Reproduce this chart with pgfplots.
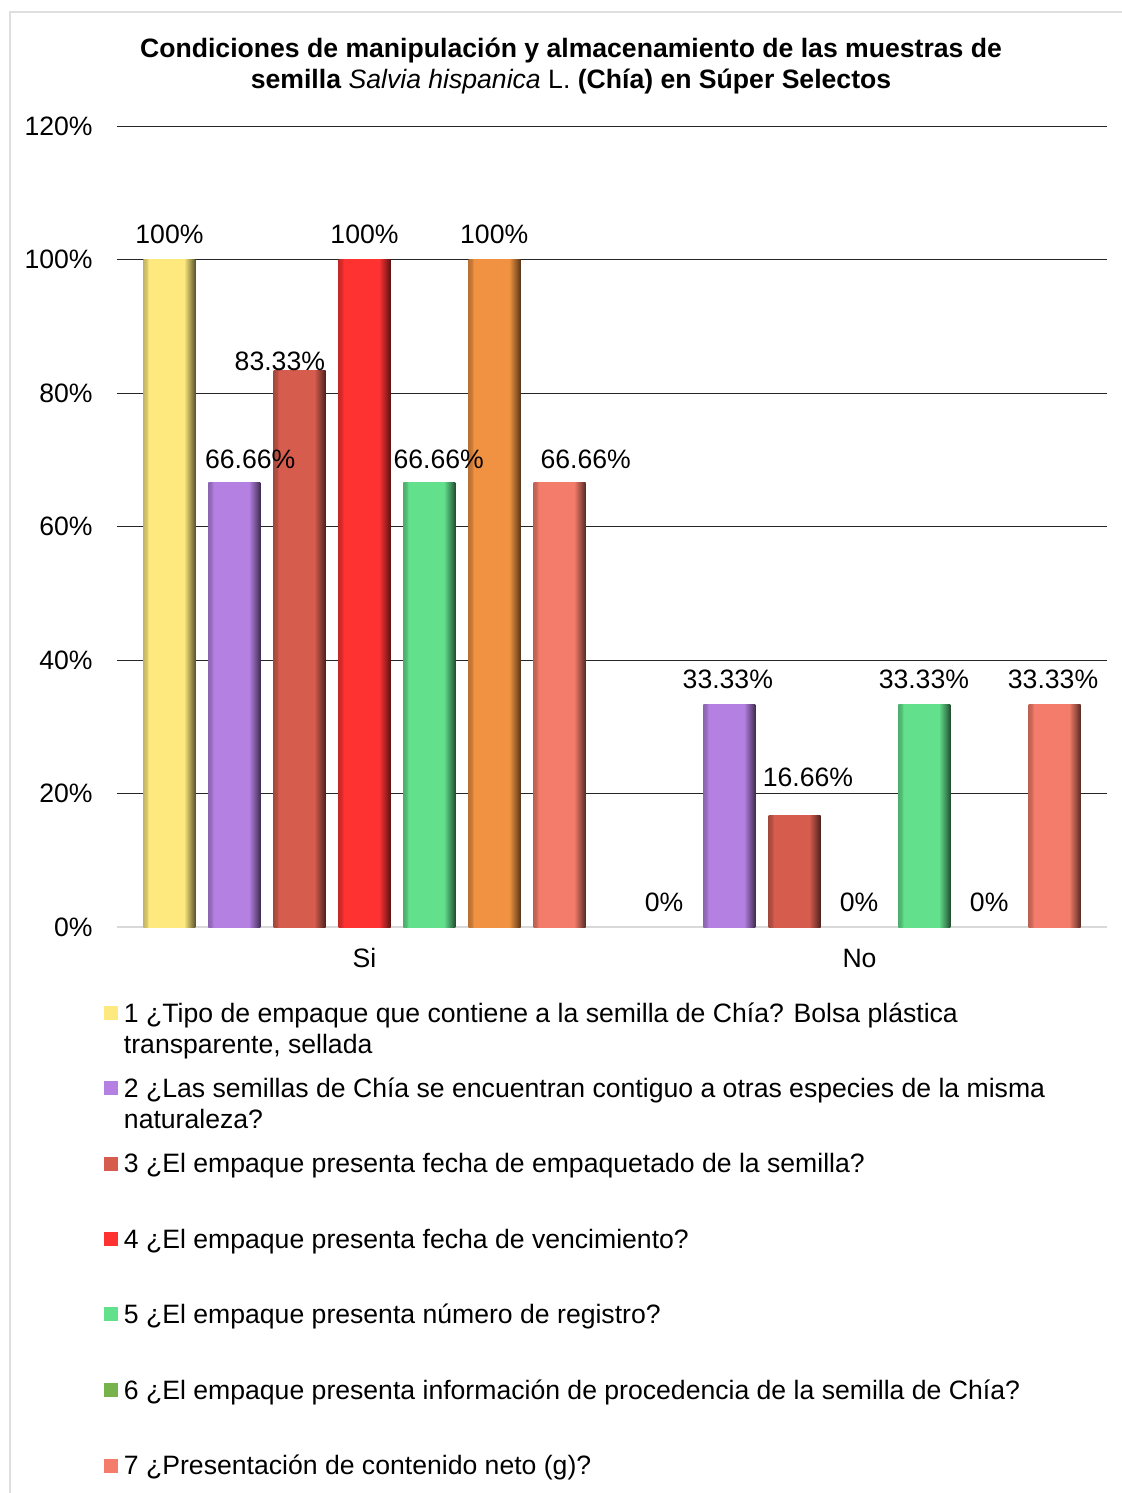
\documentclass[border=0pt]{standalone}
\usepackage{fontspec}
\setmainfont{Liberation Sans}
\usepackage{pgfplots}
\pgfplotsset{compat=1.18}
\definecolor{c1}{RGB}{253,233,125}
\definecolor{c2}{RGB}{180,128,226}
\definecolor{c3}{RGB}{214,92,78}
\definecolor{c4}{RGB}{255,50,50}
\definecolor{c5}{RGB}{98,224,140}
\definecolor{c6}{RGB}{240,146,66}
\definecolor{c7}{RGB}{244,124,106}
\definecolor{c6leg}{RGB}{119,178,75}
\newcommand{\barshade}[1]{\pgfdeclarehorizontalshading{bs#1}{100bp}{color(0bp)=(#1!78!black); color(25bp)=(#1!78!black); color(28bp)=(#1!85!black); color(30bp)=(#1); color(64bp)=(#1); color(71bp)=(#1!60!black); color(75bp)=(#1!35!black); color(100bp)=(#1!35!black)}}
\barshade{c1}\barshade{c2}\barshade{c3}\barshade{c4}\barshade{c5}\barshade{c6}\barshade{c7}
\pgfplotsset{
  mybar/.style={ybar, bar width=26pt, bar shift=0pt, draw=none, forget plot,
    shade, shading=bs#1},
}
\newcommand{\entry}[2]{\makebox[10pt][l]{\raisebox{1.2pt}{\color{#1}\rule{7pt}{7pt}}}\parbox[t]{510pt}{\raggedright #2}}
\newcommand{\fs}{\fontsize{13.3}{15.5}\selectfont}
\begin{document}
\begin{tikzpicture}
\path[use as bounding box] (0pt,0pt) rectangle (561pt,-746.5pt);
\draw[gray!25, line width=0.6pt] (5pt,-746.5pt) -- (5pt,-6pt) -- (561pt,-6pt);
\begin{axis}[
  at={(58.5pt,-463.5pt)}, anchor=south west,
  scale only axis, width=495pt, height=400.5pt,
  xmin=-0.5, xmax=1.5, ymin=0, ymax=120,
  clip=false,
  font=\fs,
  axis x line*=bottom, axis y line*=left,
  x axis line style={draw=gray!30, line width=0.6pt},
  y axis line style={draw=none},
  tick style={draw=none},
  xtick={0,1}, xticklabels={Si,No},
  xticklabel style={anchor=center, yshift=-15.5pt, inner sep=0pt},
  ytick={20,40,60,80,100,120},
  yticklabels={20\%,40\%,60\%,80\%,100\%,120\%},
  extra y ticks={0}, extra y tick labels={0\%},
  extra y tick style={grid=none},
  yticklabel style={anchor=east, inner sep=0pt, xshift=-12pt},
  ymajorgrids, grid style={black!85, line width=0.5pt},
  title={Condiciones de manipulación y almacenamiento de las muestras de\\semilla \textmd{\textit{Salvia hispanica} L.} (Chía) en Súper Selectos},
  title style={at={(rel axis cs:0.4586,1)}, anchor=center, yshift=24pt, align=center, font=\fs\bfseries},
  legend cell align=left,
  legend style={at={(rel axis cs:-0.0172,-0.0892)}, anchor=north west, draw=none, fill=none,
    inner sep=0pt, outer sep=0pt, row sep=22.5pt, column sep=0pt,
    cells={anchor=west, inner sep=0pt}, font=\fs},
]
% series 1 (yellow): Si 100, No 0
\addplot[mybar=c1] coordinates {(-0.394,100)};
% series 2 (purple): Si 66.66, No 33.33
\addplot[mybar=c2] coordinates {(-0.263,66.66)};
\addplot[mybar=c2] coordinates {(0.737,33.33)};
% series 3 (brown-red): Si 83.33, No 16.66
\addplot[mybar=c3] coordinates {(-0.131,83.33)};
\addplot[mybar=c3] coordinates {(0.869,16.66)};
% series 4 (red): Si 100, No 0
\addplot[mybar=c4] coordinates {(0,100)};
% series 5 (green): Si 66.66, No 33.33
\addplot[mybar=c5] coordinates {(0.131,66.66)};
\addplot[mybar=c5] coordinates {(1.131,33.33)};
% series 6 (orange): Si 100, No 0
\addplot[mybar=c6] coordinates {(0.263,100)};
% series 7 (salmon): Si 66.66, No 33.33
\addplot[mybar=c7] coordinates {(0.394,66.66)};
\addplot[mybar=c7] coordinates {(1.394,33.33)};
% data labels
\addplot[forget plot, draw=none, mark=none, nodes near coords, point meta=explicit symbolic,
  nodes near coords style={anchor=center, inner sep=0pt, font=\fs}]
  coordinates {
  (-0.394,103.82) [100\%]
  (-0.231,70.11) [66.66\%]
  (-0.171,84.79) [83.33\%]
  (0,103.82) [100\%]
  (0.150,70.11) [66.66\%]
  (0.262,103.82) [100\%]
  (0.447,70.11) [66.66\%]
  (0.605,3.745) [0\%]
  (0.734,37.15) [33.33\%]
  (0.896,22.47) [16.66\%]
  (0.999,3.745) [0\%]
  (1.130,37.15) [33.33\%]
  (1.262,3.745) [0\%]
  (1.391,37.15) [33.33\%]
  };
\addlegendimage{legend image code/.code={}}
\addlegendentry{\entry{c1}{1 ¿Tipo de empaque que contiene a la semilla de Chía? Bolsa plástica\newline transparente, sellada}}
\addlegendimage{legend image code/.code={}}
\addlegendentry{\entry{c2}{2 ¿Las semillas de Chía se encuentran contiguo a otras especies de la misma\newline naturaleza?}}
\addlegendimage{legend image code/.code={}}
\addlegendentry{\entry{c3}{3 ¿El empaque presenta fecha de empaquetado de la semilla?}}
\addlegendimage{legend image code/.code={}}
\addlegendentry{\entry{c4}{4 ¿El empaque presenta fecha de vencimiento?}}
\addlegendimage{legend image code/.code={}}
\addlegendentry{\entry{c5}{5 ¿El empaque presenta número de registro?}}
\addlegendimage{legend image code/.code={}}
\addlegendentry{\entry{c6leg}{6 ¿El empaque presenta información de procedencia de la semilla de Chía?}}
\addlegendimage{legend image code/.code={}}
\addlegendentry{\entry{c7}{7 ¿Presentación de contenido neto (g)?}}
\end{axis}
\end{tikzpicture}
\end{document}
